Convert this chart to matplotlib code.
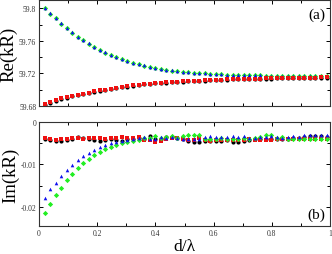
import numpy as np
import matplotlib
matplotlib.use("Agg")
import matplotlib.pyplot as plt
from matplotlib.ticker import MultipleLocator

plt.rcParams['font.family'] = ['Liberation Serif', 'DejaVu Serif']

# d/lambda sampling
d = np.arange(1, 53) * 0.019

# Re(kR), upper panel
re_blue = [59.8000, 59.7937, 59.7880, 59.7815, 59.7757, 59.7704, 59.7650, 59.7610,
           59.7569, 59.7528, 59.7491, 59.7459, 59.7430, 59.7402, 59.7377, 59.7353,
           59.7332, 59.7312, 59.7300, 59.7283, 59.7271, 59.7259, 59.7247, 59.7238,
           59.7230, 59.7222, 59.7216, 59.7210, 59.7205, 59.7201, 59.7197, 59.7193,
           59.7190, 59.7187, 59.7185, 59.7182, 59.7180, 59.7179, 59.7177, 59.7176,
           59.7175, 59.7174, 59.7173, 59.7172, 59.7171, 59.7171, 59.7170, 59.7169,
           59.7169, 59.7169, 59.7168, 59.7168]
re_green = [59.7998, 59.7934, 59.7876, 59.7812, 59.7753, 59.7700, 59.7647, 59.7606,
            59.7566, 59.7525, 59.7488, 59.7456, 59.7427, 59.7399, 59.7374, 59.7351,
            59.7330, 59.7310, 59.7297, 59.7281, 59.7269, 59.7257, 59.7245, 59.7236,
            59.7228, 59.7221, 59.7215, 59.7209, 59.7204, 59.7200, 59.7196, 59.7192,
            59.7189, 59.7186, 59.7184, 59.7181, 59.7180, 59.7178, 59.7177, 59.7176,
            59.7175, 59.7174, 59.7173, 59.7172, 59.7171, 59.7170, 59.7170, 59.7169,
            59.7169, 59.7168, 59.7168, 59.7168]
re_black = [59.6818, 59.6842, 59.6866, 59.6891, 59.6904, 59.6920, 59.6930, 59.6949,
            59.6962, 59.6977, 59.6990, 59.6999, 59.7008, 59.7019, 59.7031, 59.7040,
            59.7052, 59.7059, 59.7065, 59.7071, 59.7077, 59.7082, 59.7087, 59.7092,
            59.7096, 59.7100, 59.7104, 59.7107, 59.7110, 59.7113, 59.7116, 59.7119,
            59.7122, 59.7124, 59.7126, 59.7128, 59.7130, 59.7132, 59.7134, 59.7135,
            59.7137, 59.7138, 59.7140, 59.7141, 59.7142, 59.7143, 59.7144, 59.7145,
            59.7146, 59.7147, 59.7148, 59.7148]
re_red = [59.6822, 59.6846, 59.6872, 59.6895, 59.6907, 59.6925, 59.6932, 59.6953,
          59.6965, 59.6981, 59.6993, 59.7002, 59.7010, 59.7023, 59.7035, 59.7043,
          59.7055, 59.7062, 59.7068, 59.7074, 59.7080, 59.7085, 59.7090, 59.7095,
          59.7099, 59.7103, 59.7107, 59.7110, 59.7113, 59.7116, 59.7119, 59.7122,
          59.7125, 59.7127, 59.7129, 59.7131, 59.7133, 59.7135, 59.7137, 59.7138,
          59.7140, 59.7141, 59.7143, 59.7144, 59.7145, 59.7146, 59.7147, 59.7148,
          59.7149, 59.7150, 59.7151, 59.7151]

# Im(kR), lower panel
im_blue = [-0.01787, -0.0159, -0.0143, -0.0127, -0.0113, -0.0101, -0.00906, -0.0081,
           -0.00726, -0.00664, -0.0060, -0.00547, -0.00508, -0.00476, -0.00445, -0.0043,
           -0.0041, -0.0038, -0.0036, -0.0040, -0.0040, -0.0036, -0.00375, -0.0036,
           -0.00375, -0.0040, -0.0040, -0.0040, -0.0040, -0.0036, -0.00343, -0.0036,
           -0.0036, -0.0036, -0.00343, -0.0036, -0.00343, -0.00375, -0.00375, -0.0036,
           -0.0036, -0.00343, -0.0036, -0.00375, -0.0036, -0.00343, -0.0036, -0.0032,
           -0.00304, -0.00304, -0.00304, -0.00304]
im_green = [-0.02155, -0.0193, -0.01725, -0.01545, -0.01374, -0.01226, -0.01085, -0.0097,
            -0.00867, -0.00773, -0.00703, -0.00648, -0.0060, -0.00547, -0.00508, -0.00476,
            -0.0045, -0.0042, -0.0037, -0.00375, -0.00343, -0.00375, -0.0036, -0.00343,
            -0.00375, -0.00343, -0.0032, -0.0032, -0.0032, -0.00398, -0.00398, -0.00398,
            -0.00375, -0.00398, -0.00398, -0.00398, -0.00382, -0.00398, -0.0038, -0.0036,
            -0.0032, -0.0032, -0.00375, -0.0036, -0.00398, -0.00398, -0.00398, -0.00398,
            -0.00398, -0.00398, -0.00398, -0.00398]
im_black = [-0.00414, -0.00437, -0.0046, -0.00445, -0.00422, -0.00398, -0.00367, -0.00382,
            -0.00414, -0.00429, -0.00445, -0.00429, -0.00414, -0.00429, -0.00445, -0.00414,
            -0.00398, -0.00375, -0.00398, -0.00343, -0.00398, -0.00398, -0.0036, -0.0036,
            -0.00375, -0.00398, -0.00453, -0.00476, -0.00476, -0.00453, -0.00453, -0.00453,
            -0.00453, -0.00437, -0.00476, -0.00476, -0.00453, -0.00422, -0.00398, -0.00398,
            -0.0041, -0.0040, -0.00398, -0.00398, -0.00398, -0.00382, -0.00375, -0.0036,
            -0.00343, -0.00343, -0.00343, -0.0036]
im_red = [-0.00382, -0.00414, -0.00437, -0.00414, -0.00398, -0.00382, -0.00382, -0.00398,
          -0.00382, -0.00382, -0.00382, -0.00398, -0.00382, -0.00382, -0.00367, -0.00382,
          -0.00382, -0.00367, -0.00437, -0.00437, -0.00476, -0.0046, -0.00398, -0.00375,
          -0.00375, -0.0040, -0.0042, -0.00437, -0.00375, -0.00437, -0.00453, -0.00422,
          -0.00437, -0.00422, -0.00437, -0.00437, -0.0042, -0.0041, -0.00422, -0.00422,
          -0.00437, -0.00422, -0.00398, -0.00398, -0.0040, -0.0040, -0.00398, -0.00414,
          -0.00414, -0.00398, -0.00398, -0.0040]

x_ticks = [0, 0.2, 0.4, 0.6, 0.8, 1]
x_ticklabels = ['0', '0.2', '0.4', '0.6', '0.8', '1']

fig = plt.figure(figsize=(3.32, 2.55), dpi=100)
ax1 = fig.add_axes([0.1175, 0.580, 0.8765, 0.416])
ax2 = fig.add_axes([0.1175, 0.110, 0.8765, 0.408])

ms = 3.0
ax1.plot(d, re_green, 'D', color='#22ee22', ms=ms - 0.3, mew=0)
ax1.plot(d, re_blue, '^', color='#1010ee', ms=ms - 0.4, mew=0)
ax1.plot(d, re_black, 'o', color='black', ms=ms, mew=0)
ax1.plot(d, re_red, 's', color='#ee1111', ms=ms - 0.4, mew=0)

ax2.plot(d, im_black, 'o', color='black', ms=ms, mew=0)
ax2.plot(d, im_red, 's', color='#ee1111', ms=ms - 0.4, mew=0)
ax2.plot(d, im_green, 'D', color='#22ee22', ms=ms - 0.3, mew=0)
ax2.plot(d, im_blue, '^', color='#1010ee', ms=ms - 0.4, mew=0)

for ax in (ax1, ax2):
    ax.set_xlim(0, 1)
    ax.set_xticks(x_ticks)
    ax.xaxis.set_minor_locator(MultipleLocator(0.1))
    ax.tick_params(which='both', direction='in', top=True, right=True,
                   labelsize=5.5, labelcolor='#333333', pad=2, width=0.7)
    ax.tick_params(which='major', length=3)
    ax.tick_params(which='minor', length=2)
    for s in ax.spines.values():
        s.set_linewidth(0.8)
        s.set_color('#333333')

ax1.set_ylim(59.68, 59.81)
ax1.set_yticks([59.68, 59.72, 59.76, 59.8])
ax1.set_yticklabels(['59.68', '59.72', '59.76', '59.8'])
ax1.yaxis.set_minor_locator(MultipleLocator(0.02))
ax1.set_xticklabels([])

ax2.set_ylim(-0.0245, 0)
ax2.set_yticks([0, -0.01, -0.02])
ax2.set_yticklabels(['0', '-0.01', '-0.02'])
ax2.yaxis.set_minor_locator(MultipleLocator(0.005))
ax2.set_xticklabels(x_ticklabels)

ax1.set_ylabel('Re(kR)', fontsize=13.5, labelpad=1)
ax2.set_ylabel('Im(kR)', fontsize=13.5, labelpad=1)
ax2.set_xlabel('d/λ', fontsize=12.5, labelpad=1)

ax1.text(0.985, 0.93, '(a)', transform=ax1.transAxes, ha='right', va='top', fontsize=11)
ax2.text(0.985, 0.05, '(b)', transform=ax2.transAxes, ha='right', va='bottom', fontsize=11)

fig.savefig('out.png', dpi=100)
